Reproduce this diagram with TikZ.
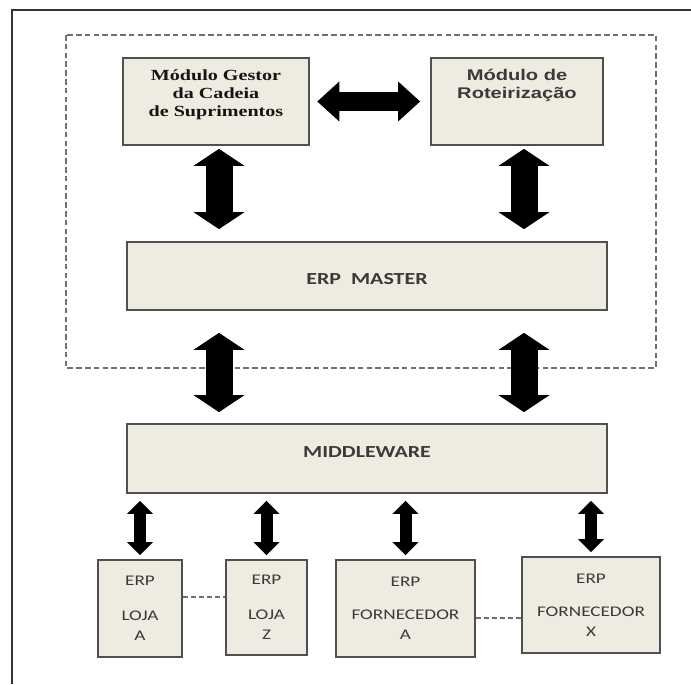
\documentclass[tikz,border=0pt]{standalone}
\usepackage{fontspec}
\setmainfont{Liberation Serif}
\newfontfamily\timesfont[FakeStretch=1.3]{Liberation Serif}
\newfontfamily\arialfont[FakeStretch=1.3]{Liberation Sans}
\newfontfamily\calibrifont[FakeStretch=1.3]{Carlito}
\usetikzlibrary{
  arrows.meta,
  calc,
}
\definecolor{ink}{HTML}{141414}
\definecolor{muted}{HTML}{3A3A3A}
\definecolor{boxFill}{HTML}{EEECE1}
\definecolor{boxStroke}{HTML}{505050}
\definecolor{frameStroke}{HTML}{333333}
\definecolor{dashStroke}{HTML}{707070}
\tikzset{
  every node/.style={
    align=center,
    inner sep=0pt,
  },
  modbox/.style={
    rectangle,
    draw=boxStroke, line width=0.45mm,
    fill=boxFill,
  },
  topbox/.style={
    modbox,
    minimum height=21.75mm,
    text=ink,
  },
  barbox/.style={
    modbox,
    minimum width=120mm, minimum height=17mm,
    font=\calibrifont\bfseries\fontsize{12pt}{14pt}\selectfont,
    text=muted,
  },
  erpbox/.style={
    modbox,
    minimum height=24.25mm,
    font=\calibrifont\fontsize{10.5pt}{14.2pt}\selectfont,
    text=muted,
  },
  frame/.style={
    draw=frameStroke, line width=0.6mm,
  },
  groupline/.style={
    draw=dashStroke, line width=0.4mm,
    dash pattern=on 1.4mm off 0.8mm,
  },
  link/.style={
    draw=dashStroke, line width=0.4mm,
    dash pattern=on 1.2mm off 0.8mm,
  },
  bigflow/.style={
    {Triangle[length=4.25mm,width=12.75mm,line width=0pt]}-{Triangle[length=4.25mm,width=12.75mm,line width=0pt]},
    draw=black, line width=6.75mm,
  },
  sideflow/.style={
    {Triangle[length=5.5mm,width=10mm,line width=0pt]}-{Triangle[length=5.5mm,width=10mm,line width=0pt]},
    draw=black, line width=4.75mm,
  },
  smallflow/.style={
    {Triangle[length=3.25mm,width=6.5mm,line width=0pt]}-{Triangle[length=3.25mm,width=6.5mm,line width=0pt]},
    draw=black, line width=3mm,
  },
}

\begin{document}
\begin{tikzpicture}[x=0.25mm, y=-0.25mm]
\useasboundingbox (0,0) rectangle (691,684);

% outer frame, open to the right and bottom
\draw[frame] (691,10) -- (12,10) -- (12,684);

% dashed group round the master side
\draw[groupline] (66,35) rectangle (656,368);

% ----- top modules -----
\node[topbox, minimum width=46.4mm, text depth=4mm,
  font=\timesfont\bfseries\fontsize{11pt}{12.8pt}\selectfont]
  (gestor) at (216,101.5) {Módulo Gestor\\da Cadeia\\de Suprimentos};
\node[topbox, minimum width=43mm, text depth=8.6mm,
  font=\arialfont\bfseries\fontsize{11pt}{12.8pt}\selectfont, text=muted]
  (rotas) at (517,101.5) {Módulo de\\Roteirização};

% ----- bars -----
\node[barbox, text height=4.2mm] (master) at (367,276) {ERP~~MASTER};
\node[barbox, minimum height=17.25mm, text depth=3.2mm] (middleware) at (367,458.5) {MIDDLEWARE};

% ----- ERP of stores and suppliers -----
\node[erpbox, minimum width=21mm] (lojaA) at (140,608.5) {ERP\\[11pt]LOJA\\A};
\node[erpbox, minimum width=20.25mm, minimum height=23.75mm] (lojaZ) at (266.5,607.5) {ERP\\[11pt]LOJA\\Z};
\node[erpbox, minimum width=34.75mm] (fornA) at (405.5,608.5) {ERP\\[9pt]FORNECEDOR\\A};
\node[erpbox, minimum width=34.5mm, minimum height=24mm] (fornX) at (591,605) {ERP\\[9pt]FORNECEDOR\\X};

% arrow columns (x of the big arrows)
\coordinate (colL) at ($(gestor.south)+(3,0)$);
\coordinate (colR) at ($(rotas.south)+(7,0)$);

% ----- arrows -----
\draw[sideflow, shorten <=1.9mm, shorten >=2.5mm] (gestor.east) -- (rotas.west);

\draw[bigflow, shorten <=0.75mm, shorten >=3mm] (colL) -- (colL |- master.north);
\draw[bigflow, shorten <=0.75mm, shorten >=3mm] (colR) -- (colR |- master.north);

\draw[bigflow, shorten <=5.5mm, shorten >=2.75mm] (colL |- master.south) -- (colL |- middleware.north);
\draw[bigflow, shorten <=5.5mm, shorten >=2.75mm] (colR |- master.south) -- (colR |- middleware.north);

\foreach \erp in {lojaA, lojaZ, fornA, fornX}
  \draw[smallflow, shorten <=1.75mm, shorten >=1mm]
    (middleware.south -| \erp.north) -- (\erp.north);

% dashed links between the ERPs
\draw[link] (lojaA.east |- 0,597) -- (lojaZ.west |- 0,597);
\draw[link] (fornA.east |- 0,618) -- (fornX.west |- 0,618);

\end{tikzpicture}
\end{document}
